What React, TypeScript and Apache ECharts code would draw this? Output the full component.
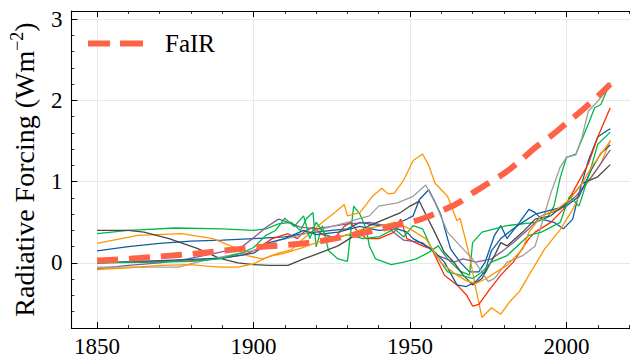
import React, { useEffect, useRef } from "react";
import * as echarts from "echarts";

// ---- data (year, radiative forcing W m^-2) ----
const fair: [number, number][] = [
  [1850, 0.03], [1860, 0.05], [1870, 0.08], [1880, 0.11], [1890, 0.15], [1900, 0.19],
  [1910, 0.22], [1920, 0.26], [1930, 0.33], [1940, 0.41], [1945, 0.46], [1950, 0.5],
  [1955, 0.56], [1960, 0.64], [1965, 0.73], [1970, 0.86], [1975, 0.98], [1980, 1.1],
  [1985, 1.25], [1990, 1.42], [1995, 1.56], [2000, 1.72], [2005, 1.88], [2010, 2.05], [2014, 2.2],
];

const blueA: [number, number][] = [
  [1850, 0.15], [1860, 0.2], [1870, 0.24], [1880, 0.27], [1890, 0.28], [1900, 0.3], [1910, 0.32],
  [1916, 0.36], [1920, 0.38], [1925, 0.4], [1930, 0.42], [1934, 0.5], [1940, 0.46], [1945, 0.48],
  [1948, 0.52], [1951, 0.58], [1953, 0.78], [1956, 0.9], [1958, 0.75], [1960, 0.58], [1962, 0.3],
  [1963, 0.17], [1966, 0.01], [1969, -0.11], [1972, -0.11], [1974, 0.01], [1977, 0.34], [1979, 0.46],
  [1981, 0.3], [1985, 0.5], [1988, 0.66], [1990, 0.62], [1992, 0.54], [1996, 0.5], [1999, 0.42],
  [2002, 0.54], [2004, 0.86], [2007, 1.26], [2010, 1.55], [2013, 1.63], [2014, 1.65],
];

const greenA: [number, number][] = [
  [1850, 0.36], [1860, 0.4], [1875, 0.43], [1890, 0.42], [1900, 0.4], [1904, 0.42], [1908, 0.48],
  [1912, 0.5], [1915, 0.4], [1917, 0.55], [1919, 0.62], [1920, 0.2], [1922, 0.46], [1924, 0.15],
  [1927, 0.05], [1930, 0.02], [1932, 0.7], [1934, 0.6], [1936, 0.42], [1937, 0.21], [1939, 0.05],
  [1944, -0.02], [1948, 0.01], [1952, 0.05], [1956, 0.13], [1959, 0.21], [1962, 0.05], [1966, -0.1],
  [1969, -0.15], [1970, 0.25], [1973, 0.38], [1981, 0.46], [1990, 0.5], [1994, 0.56], [1996, 0.7],
  [1998, 1.05], [2000, 1.3], [2003, 1.34], [2007, 1.71], [2009, 1.91], [2011, 1.95], [2014, 2.22],
];

const orangeA: [number, number][] = [
  [1850, 0.24], [1863, 0.34], [1877, 0.36], [1887, 0.3], [1894, 0.19], [1898, 0.09], [1903, 0.05],
  [1908, 0.12], [1912, 0.16], [1916, 0.3], [1922, 0.5], [1926, 0.62], [1929, 0.72], [1930, 0.58],
  [1934, 0.62], [1938, 0.82], [1941, 0.92], [1943, 0.85], [1945, 0.86], [1948, 1.02], [1951, 1.26],
  [1954, 1.34], [1956, 1.2], [1958, 0.98], [1962, 0.82], [1965, 0.52], [1966, 0.55], [1969, 0.09],
  [1971, -0.31], [1973, -0.67], [1976, -0.55], [1979, -0.63], [1982, -0.47], [1985, -0.35],
  [1988, -0.15], [1993, 0.17], [1998, 0.41], [2002, 0.66], [2005, 0.9], [2011, 1.22], [2014, 1.51],
];

const red: [number, number][] = [
  [1850, 0.0], [1860, 0.01], [1870, 0.02], [1880, 0.03], [1890, 0.06], [1897, 0.1], [1901, 0.17],
  [1906, 0.3], [1911, 0.36], [1914, 0.3], [1916, 0.38], [1919, 0.44], [1922, 0.35], [1926, 0.31],
  [1929, 0.45], [1931, 0.5], [1933, 0.4], [1936, 0.3], [1940, 0.3], [1945, 0.38], [1947, 0.54],
  [1949, 0.3], [1954, 0.21], [1957, 0.17], [1961, -0.15], [1965, -0.27], [1968, -0.39], [1970, -0.53],
  [1972, -0.51], [1975, -0.35], [1979, -0.15], [1983, 0.01], [1988, 0.3], [1990, 0.38], [1995, 0.5],
  [1999, 0.66], [2003, 0.94], [2007, 1.22], [2010, 1.55], [2014, 1.91],
];

const purple: [number, number][] = [
  [1850, -0.07], [1860, -0.03], [1870, 0.0], [1879, 0.05], [1889, 0.13], [1896, 0.19], [1901, 0.34],
  [1904, 0.44], [1908, 0.54], [1911, 0.5], [1915, 0.44], [1920, 0.42], [1925, 0.45], [1930, 0.48],
  [1937, 0.5], [1942, 0.46], [1948, 0.28], [1954, 0.25], [1959, 0.09], [1964, 0.01], [1967, 0.05],
  [1971, 0.01], [1976, 0.05], [1979, 0.13], [1983, 0.25], [1988, 0.42], [1992, 0.58], [1998, 0.66],
  [2003, 0.82], [2008, 1.06], [2014, 1.39],
];

const dark: [number, number][] = [
  [1850, 0.4], [1860, 0.4], [1865, 0.38], [1873, 0.3], [1882, 0.18], [1889, 0.06], [1895, 0.0],
  [1900, -0.02], [1905, -0.03], [1911, -0.03], [1916, 0.05], [1921, 0.12], [1927, 0.21], [1932, 0.33],
  [1937, 0.46], [1942, 0.54], [1947, 0.62], [1950, 0.7], [1953, 0.76], [1955, 0.6], [1958, 0.37],
  [1961, 0.13], [1964, 0.01], [1967, -0.15], [1970, -0.27], [1973, -0.19], [1977, 0.09], [1979, 0.25],
  [1981, 0.21], [1986, 0.38], [1990, 0.54], [1995, 0.58], [2000, 0.74], [2005, 0.98], [2010, 1.06],
  [2014, 1.21],
];

const gray: [number, number][] = [
  [1850, -0.05], [1863, -0.05], [1876, -0.05], [1882, 0.01], [1889, 0.07], [1897, 0.13], [1902, 0.17],
  [1908, 0.28], [1913, 0.32], [1918, 0.38], [1922, 0.42], [1926, 0.46], [1930, 0.5], [1934, 0.55],
  [1937, 0.58], [1940, 0.7], [1946, 0.74], [1951, 0.82], [1955, 0.96], [1958, 0.74], [1962, 0.38],
  [1967, 0.17], [1970, 0.05], [1973, -0.11], [1975, -0.23], [1977, -0.19], [1981, 0.01], [1986, 0.09],
  [1990, 0.21], [1993, 0.6], [1995, 0.86], [1998, 1.18], [2000, 1.3], [2003, 1.33], [2005, 1.55],
  [2007, 1.87], [2010, 1.99], [2014, 2.18],
];

const blueB: [number, number][] = [
  [1850, 0.0], [1870, 0.03], [1890, 0.06], [1900, 0.12], [1905, 0.25], [1910, 0.3], [1916, 0.4],
  [1920, 0.35], [1927, 0.38], [1934, 0.45], [1940, 0.4], [1946, 0.42], [1949, 0.38], [1951, 0.3],
  [1957, 0.17], [1961, 0.01], [1965, -0.27], [1968, -0.29], [1971, -0.23], [1974, -0.1], [1976, 0.15],
  [1979, 0.3], [1984, 0.45], [1990, 0.6], [1995, 0.65], [2000, 0.7], [2004, 0.82], [2008, 1.15],
  [2011, 1.35], [2014, 1.45],
];

const greenB: [number, number][] = [
  [1850, 0.0], [1870, 0.01], [1880, 0.02], [1889, 0.05], [1896, 0.12], [1900, 0.19], [1904, 0.34],
  [1907, 0.4], [1910, 0.55], [1913, 0.45], [1916, 0.58], [1918, 0.3], [1920, 0.5], [1923, 0.35],
  [1926, 0.3], [1930, 0.35], [1935, 0.3], [1940, 0.32], [1945, 0.42], [1948, 0.32], [1951, 0.46],
  [1954, 0.42], [1957, 0.17], [1962, -0.11], [1966, -0.15], [1970, -0.19], [1973, -0.11], [1976, 0.01],
  [1981, 0.09], [1988, 0.34], [1992, 0.38], [1998, 0.5], [2001, 0.82], [2004, 0.7], [2007, 1.06],
  [2010, 1.46], [2014, 1.61],
];

const orangeB: [number, number][] = [
  [1850, -0.08], [1860, -0.06], [1870, -0.03], [1880, -0.02], [1885, -0.04], [1890, -0.05],
  [1895, -0.05], [1900, -0.01], [1905, 0.08], [1910, 0.12], [1915, 0.18], [1920, 0.25], [1925, 0.3],
  [1930, 0.35], [1935, 0.42], [1940, 0.45], [1945, 0.5], [1950, 0.42], [1955, 0.3], [1960, 0.0],
  [1965, -0.15], [1968, -0.22], [1971, -0.25], [1974, -0.2], [1978, -0.1], [1981, -0.03],
  [1986, 0.17], [1988, 0.38], [1992, 0.58], [1997, 0.66], [2001, 0.78], [2005, 0.98], [2008, 1.18],
  [2014, 1.5],
];

const modelRuns = [blueA, greenA, orangeA, red, purple, dark, gray, blueB, greenB, orangeB];
const runColors = ["#0C5DA5", "#00B945", "#FF9500", "#FF2C00", "#845B97", "#474747", "#9e9e9e", "#0C5DA5", "#00B945", "#FF9500"];
const fairName = "FaIR";
const yAxisTitle = "Radiative Forcing (Wm{sup|−2})";
const xRange = [1841.8, 2020.3];
const yRange = [-0.8, 3.1];

const FONT = "Liberation Serif";

export default function App() {
  const ref = useRef<HTMLDivElement>(null);
  useEffect(() => {
    document.body.style.margin = "0";
    const chart = echarts.init(ref.current!, null, { renderer: "svg" });
    const axisCommon = {
      type: "value" as const,
      axisLine: { show: true, onZero: false, lineStyle: { color: "#000", width: 1.1 } },
      axisTick: { show: true, inside: true, length: 6, lineStyle: { color: "#000", width: 1 } },
      minorTick: { show: true, splitNumber: 5, length: 3, lineStyle: { color: "#000", width: 0.8 } },
    };
    const series: any[] = modelRuns.map((d, i) => ({
      type: "line",
      data: d,
      showSymbol: false,
      symbol: "none",
      lineStyle: { color: runColors[i], width: 1.3 },
      z: 2,
      silent: true,
    }));
    series.push({
      name: fairName,
      type: "line",
      data: fair,
      showSymbol: false,
      symbol: "none",
      smooth: 0.3,
      itemStyle: { color: "#FF6347" },
      lineStyle: { color: "#FF6347", width: 6, type: [21, 11] },
      z: 5,
    });
    chart.setOption({
      animation: false,
      backgroundColor: "#fff",
      textStyle: { fontFamily: FONT },
      grid: { left: 64, right: 0, top: 11, bottom: 24, containLabel: false },
      legend: {
        data: [fairName],
        left: 88,
        top: 31,
        padding: 0,
        icon: "path://M0 0H22V6H0Z M32 0H55V6H32Z",
        itemWidth: 55,
        itemHeight: 6,
        textStyle: { fontFamily: FONT, fontSize: 25, color: "#000", padding: [0, 0, 0, 17] },
      },
      xAxis: [
        {
          ...axisCommon,
          position: "bottom",
          min: xRange[0],
          max: xRange[1],
          splitNumber: 4,
          axisLabel: {
            fontFamily: FONT, fontSize: 23, color: "#000", margin: 7,
            showMinLabel: false, showMaxLabel: false,
            formatter: (v: number) => String(Math.round(v)),
          },
          splitLine: { show: true, lineStyle: { color: "#e8e8e8", width: 1 } },
        },
        {
          ...axisCommon,
          position: "top",
          min: xRange[0],
          max: xRange[1],
          splitNumber: 4,
          axisLabel: { show: false },
          splitLine: { show: false },
        },
      ],
      yAxis: {
        ...axisCommon,
        min: yRange[0],
        max: yRange[1],
        splitNumber: 4,
        name: yAxisTitle,
        nameLocation: "middle",
        nameGap: 28,
        nameRotate: 90,
        nameTextStyle: {
          fontFamily: FONT, fontSize: 28, color: "#000", lineHeight: 32,
          rich: { sup: { fontFamily: FONT, fontSize: 18, color: "#000", verticalAlign: "top", lineHeight: 18 } },
        },
        axisLabel: {
          fontFamily: FONT, fontSize: 23, color: "#000", margin: 9,
          showMinLabel: false, showMaxLabel: false,
        },
        splitLine: { show: true, lineStyle: { color: "#e8e8e8", width: 1 } },
      },
      series,
    });
    return () => chart.dispose();
  }, []);
  return <div ref={ref} style={{ width: 630, height: 358 }} />;
}
